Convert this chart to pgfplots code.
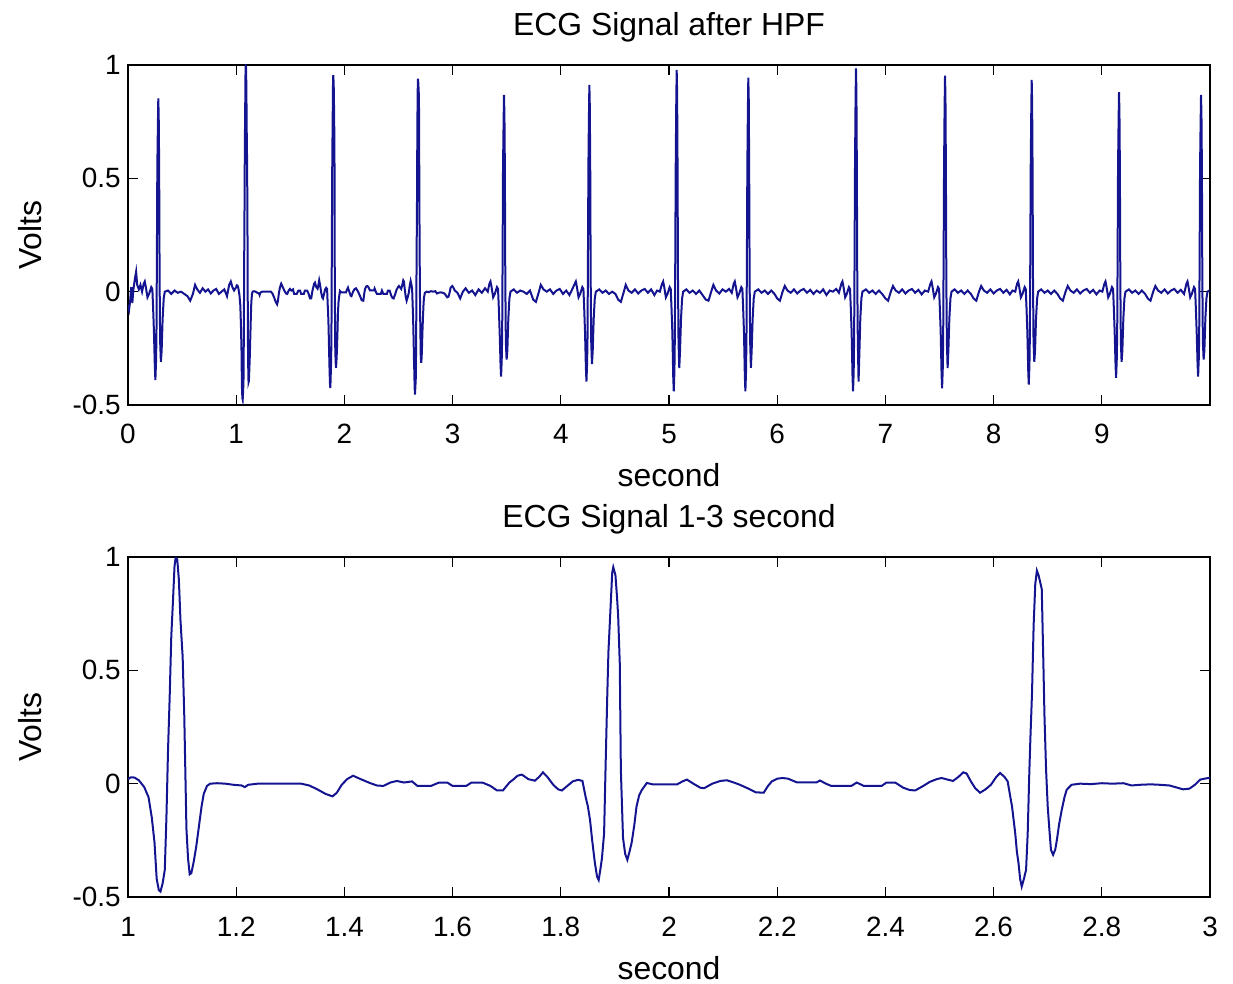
\documentclass[border=0pt]{standalone}
\usepackage{fontspec}
\setmainfont{Liberation Sans}
\usepackage{pgfplots}
\pgfplotsset{compat=1.18}
\usepackage{pgfplotstable}
\definecolor{ecg}{RGB}{20,20,145}

\pgfplotstableread{
t v
0.000 -0.060
0.010 -0.080
0.020 -0.040
0.030 0.020
0.040 -0.050
0.050 0.010
0.065 0.060
0.075 0.088
0.085 0.030
0.100 0.010
0.115 0.030
0.130 0.000
0.145 0.035
0.155 0.045
0.165 0.020
0.180 -0.025
0.195 -0.010
0.215 0.020
0.225 0.012
0.232 -0.070
0.240 -0.180
0.248 -0.330
0.253 -0.390
0.259 -0.310
0.263 -0.200
0.267 0.150
0.271 0.550
0.276 0.725
0.280 0.853
0.284 0.768
0.288 0.550
0.292 0.060
0.297 -0.220
0.304 -0.310
0.311 -0.260
0.320 -0.120
0.330 -0.030
0.340 0.000
0.370 0.005
0.400 -0.010
0.430 0.005
0.460 -0.005
0.490 0.000
0.520 -0.010
0.550 -0.020
0.575 -0.040
0.600 -0.010
0.620 0.030
0.640 0.010
0.665 -0.005
0.690 0.015
0.715 0.000
0.740 0.010
0.765 -0.008
0.790 0.005
0.815 0.012
0.840 -0.010
0.865 0.000
0.890 0.010
0.915 -0.020
0.935 0.030
0.950 0.045
0.965 0.020
0.980 0.005
1.000 0.020
1.005 0.028
1.012 0.027
1.020 0.015
1.030 -0.015
1.038 -0.060
1.044 -0.150
1.049 -0.260
1.053 -0.420
1.057 -0.470
1.060 -0.476
1.064 -0.440
1.068 -0.380
1.071 -0.150
1.074 0.150
1.077 0.380
1.080 0.650
1.083 0.800
1.086 0.960
1.088 0.995
1.091 0.990
1.094 0.900
1.097 0.720
1.101 0.560
1.104 0.300
1.106 0.050
1.108 -0.200
1.111 -0.330
1.114 -0.400
1.117 -0.395
1.121 -0.350
1.126 -0.280
1.131 -0.190
1.136 -0.100
1.140 -0.045
1.146 -0.010
1.152 0.000
1.165 0.002
1.180 0.000
1.195 -0.005
1.210 -0.008
1.216 -0.015
1.222 -0.005
1.240 0.000
1.280 0.000
1.320 0.000
1.335 -0.008
1.350 -0.025
1.365 -0.045
1.378 -0.056
1.386 -0.040
1.395 -0.005
1.405 0.020
1.416 0.035
1.430 0.020
1.447 0.003
1.460 -0.008
1.472 -0.010
1.485 0.005
1.497 0.012
1.510 0.005
1.525 0.010
1.535 -0.010
1.560 -0.010
1.575 0.005
1.590 0.005
1.600 -0.010
1.625 -0.010
1.635 0.005
1.655 0.005
1.670 -0.010
1.682 -0.030
1.693 -0.030
1.705 0.005
1.712 0.018
1.720 0.035
1.728 0.040
1.740 0.020
1.752 0.013
1.760 0.030
1.767 0.050
1.775 0.030
1.786 -0.005
1.795 -0.025
1.802 -0.030
1.812 -0.010
1.822 0.010
1.832 0.017
1.840 0.012
1.846 -0.060
1.850 -0.100
1.854 -0.160
1.858 -0.250
1.863 -0.350
1.867 -0.410
1.870 -0.425
1.873 -0.380
1.876 -0.330
1.880 -0.220
1.883 0.100
1.886 0.400
1.888 0.580
1.892 0.780
1.895 0.930
1.897 0.955
1.901 0.920
1.904 0.820
1.906 0.740
1.909 0.530
1.911 0.060
1.915 -0.240
1.919 -0.310
1.923 -0.336
1.927 -0.300
1.931 -0.260
1.936 -0.180
1.940 -0.100
1.945 -0.050
1.950 -0.027
1.959 0.003
1.970 -0.003
1.990 -0.003
2.015 -0.003
2.025 0.010
2.033 0.018
2.045 0.000
2.058 -0.018
2.065 -0.020
2.080 0.000
2.095 0.012
2.107 0.015
2.120 0.005
2.131 -0.005
2.145 -0.020
2.160 -0.038
2.175 -0.040
2.183 -0.010
2.190 0.010
2.200 0.022
2.210 0.025
2.220 0.022
2.236 0.006
2.255 0.006
2.273 0.006
2.279 0.014
2.290 0.000
2.300 -0.010
2.320 -0.010
2.337 -0.010
2.347 0.005
2.360 -0.010
2.393 -0.010
2.402 0.005
2.418 0.005
2.433 -0.018
2.445 -0.028
2.455 -0.030
2.470 -0.010
2.482 0.008
2.495 0.020
2.504 0.025
2.515 0.018
2.525 0.012
2.535 0.030
2.544 0.050
2.550 0.045
2.558 0.010
2.566 -0.020
2.575 -0.040
2.585 -0.025
2.595 -0.005
2.605 0.030
2.612 0.047
2.620 0.030
2.626 0.010
2.631 -0.060
2.634 -0.100
2.637 -0.160
2.640 -0.220
2.643 -0.300
2.646 -0.350
2.649 -0.420
2.652 -0.454
2.656 -0.420
2.660 -0.380
2.663 -0.220
2.666 0.050
2.668 0.200
2.671 0.400
2.674 0.700
2.677 0.880
2.680 0.940
2.683 0.920
2.687 0.880
2.689 0.858
2.692 0.530
2.694 0.300
2.697 0.060
2.700 -0.100
2.703 -0.200
2.706 -0.292
2.710 -0.314
2.714 -0.290
2.717 -0.248
2.721 -0.180
2.726 -0.115
2.731 -0.060
2.735 -0.027
2.744 -0.005
2.760 0.000
2.780 -0.002
2.800 0.002
2.820 0.000
2.840 0.002
2.855 -0.008
2.870 -0.005
2.890 -0.003
2.908 -0.005
2.925 -0.008
2.940 -0.018
2.950 -0.025
2.962 -0.022
2.972 -0.005
2.982 0.018
2.990 0.022
2.997 0.025
3.005 0.020
3.020 0.005
3.045 -0.005
3.070 -0.030
3.095 0.000
3.120 0.015
3.150 -0.005
3.180 0.005
3.210 -0.015
3.240 0.010
3.270 -0.005
3.300 0.015
3.325 0.000
3.340 0.035
3.350 0.045
3.360 0.020
3.375 -0.025
3.390 -0.010
3.410 0.020
3.420 0.012
3.427 -0.070
3.435 -0.180
3.443 -0.320
3.448 -0.375
3.454 -0.300
3.458 -0.200
3.462 0.150
3.466 0.550
3.471 0.738
3.475 0.868
3.479 0.781
3.483 0.550
3.487 0.060
3.492 -0.220
3.499 -0.300
3.506 -0.260
3.515 -0.120
3.525 -0.030
3.535 0.000
3.565 0.010
3.595 -0.005
3.625 0.005
3.655 0.000
3.685 -0.010
3.715 0.005
3.745 -0.035
3.770 -0.045
3.795 -0.005
3.815 0.030
3.840 0.010
3.870 0.000
3.900 0.010
3.930 -0.010
3.960 0.005
3.990 0.012
4.020 -0.010
4.050 0.005
4.080 -0.015
4.105 0.010
4.129 0.035
4.139 0.045
4.149 0.020
4.164 -0.025
4.179 -0.010
4.199 0.020
4.209 0.012
4.216 -0.070
4.224 -0.180
4.232 -0.337
4.237 -0.397
4.243 -0.318
4.247 -0.200
4.251 0.150
4.255 0.550
4.260 0.775
4.264 0.912
4.268 0.821
4.272 0.550
4.276 0.060
4.281 -0.220
4.288 -0.320
4.295 -0.260
4.304 -0.120
4.314 -0.030
4.324 0.000
4.355 0.010
4.385 -0.005
4.415 0.005
4.445 -0.010
4.475 0.000
4.505 -0.010
4.530 -0.035
4.555 -0.045
4.580 -0.005
4.600 0.030
4.625 0.005
4.655 -0.005
4.685 0.010
4.715 -0.008
4.745 0.005
4.775 0.012
4.805 -0.005
4.835 0.010
4.865 -0.015
4.890 0.005
4.915 0.000
4.936 0.035
4.946 0.045
4.956 0.020
4.971 -0.025
4.986 -0.010
5.006 0.020
5.016 0.012
5.023 -0.070
5.031 -0.180
5.039 -0.374
5.044 -0.440
5.050 -0.352
5.054 -0.200
5.058 0.150
5.062 0.550
5.067 0.831
5.071 0.978
5.075 0.880
5.079 0.550
5.083 0.060
5.088 -0.220
5.095 -0.337
5.102 -0.260
5.111 -0.120
5.121 -0.030
5.131 0.000
5.160 0.010
5.190 -0.005
5.220 0.005
5.250 -0.010
5.280 0.005
5.310 -0.015
5.340 -0.035
5.365 -0.040
5.390 0.000
5.410 0.030
5.435 0.005
5.465 -0.008
5.495 0.010
5.525 0.000
5.555 0.012
5.580 -0.005
5.598 0.035
5.608 0.045
5.618 0.020
5.633 -0.025
5.648 -0.010
5.668 0.020
5.678 0.012
5.685 -0.070
5.693 -0.180
5.701 -0.374
5.706 -0.440
5.712 -0.352
5.716 -0.200
5.720 0.150
5.724 0.550
5.729 0.802
5.733 0.944
5.737 0.850
5.741 0.550
5.745 0.060
5.750 -0.220
5.757 -0.336
5.764 -0.260
5.773 -0.120
5.783 -0.030
5.793 0.000
5.825 0.010
5.855 -0.005
5.885 0.005
5.915 -0.010
5.945 0.005
5.975 -0.010
6.000 -0.030
6.025 -0.040
6.050 0.000
6.070 0.025
6.095 0.005
6.125 -0.005
6.155 0.010
6.185 -0.008
6.215 0.005
6.245 0.012
6.275 -0.005
6.305 0.008
6.335 -0.010
6.365 0.005
6.395 -0.005
6.425 0.010
6.455 -0.015
6.485 0.005
6.515 0.000
6.545 0.012
6.570 -0.005
6.593 0.035
6.603 0.045
6.613 0.020
6.628 -0.025
6.643 -0.010
6.663 0.020
6.673 0.012
6.680 -0.070
6.688 -0.180
6.696 -0.374
6.701 -0.440
6.707 -0.352
6.711 -0.200
6.715 0.150
6.719 0.550
6.724 0.837
6.728 0.985
6.732 0.887
6.736 0.550
6.740 0.060
6.745 -0.220
6.752 -0.397
6.759 -0.280
6.768 -0.120
6.778 -0.030
6.788 0.000
6.820 0.010
6.850 -0.005
6.880 0.005
6.910 -0.010
6.940 0.005
6.970 -0.010
7.000 -0.030
7.025 -0.040
7.050 0.000
7.070 0.025
7.095 0.005
7.125 -0.005
7.155 0.010
7.185 -0.008
7.215 0.005
7.245 0.012
7.275 -0.005
7.305 0.008
7.335 -0.012
7.365 0.005
7.395 0.000
7.416 0.035
7.426 0.045
7.436 0.020
7.451 -0.025
7.466 -0.010
7.486 0.020
7.496 0.012
7.503 -0.070
7.511 -0.180
7.519 -0.362
7.524 -0.426
7.530 -0.341
7.534 -0.200
7.538 0.150
7.542 0.550
7.547 0.810
7.551 0.953
7.555 0.858
7.559 0.550
7.563 0.060
7.568 -0.220
7.575 -0.337
7.582 -0.260
7.591 -0.120
7.601 -0.030
7.611 0.000
7.640 0.010
7.670 -0.005
7.700 0.005
7.730 -0.010
7.760 0.005
7.790 -0.010
7.815 -0.030
7.840 -0.040
7.865 0.000
7.885 0.025
7.910 0.005
7.940 -0.005
7.970 0.010
8.000 -0.008
8.030 0.005
8.060 0.012
8.090 -0.005
8.120 0.008
8.150 -0.012
8.175 0.005
8.200 0.000
8.217 0.035
8.227 0.045
8.237 0.020
8.252 -0.025
8.267 -0.010
8.287 0.020
8.297 0.012
8.304 -0.070
8.312 -0.180
8.320 -0.349
8.325 -0.410
8.331 -0.328
8.335 -0.200
8.339 0.150
8.343 0.550
8.348 0.794
8.352 0.934
8.356 0.841
8.360 0.550
8.364 0.060
8.369 -0.220
8.376 -0.310
8.383 -0.260
8.392 -0.120
8.402 -0.030
8.412 0.000
8.440 0.010
8.470 -0.005
8.500 0.005
8.530 -0.010
8.560 0.005
8.590 -0.010
8.615 -0.030
8.640 -0.040
8.665 0.000
8.685 0.025
8.710 0.005
8.740 -0.005
8.770 0.010
8.800 -0.008
8.830 0.005
8.860 0.012
8.890 -0.005
8.920 0.008
8.950 -0.012
8.980 0.005
9.005 0.000
9.024 0.035
9.034 0.045
9.044 0.020
9.059 -0.025
9.074 -0.010
9.094 0.020
9.104 0.012
9.111 -0.070
9.119 -0.180
9.127 -0.323
9.132 -0.380
9.138 -0.304
9.142 -0.200
9.146 0.150
9.150 0.550
9.155 0.748
9.159 0.880
9.163 0.792
9.167 0.550
9.171 0.060
9.176 -0.220
9.183 -0.310
9.190 -0.260
9.199 -0.120
9.209 -0.030
9.219 0.000
9.250 0.010
9.280 -0.005
9.310 0.005
9.340 -0.010
9.370 0.005
9.400 -0.010
9.425 -0.030
9.450 -0.040
9.475 0.000
9.495 0.025
9.520 0.005
9.550 -0.005
9.580 0.010
9.610 -0.008
9.640 0.005
9.670 0.012
9.700 -0.005
9.730 0.008
9.760 -0.010
9.782 0.035
9.792 0.045
9.802 0.020
9.817 -0.025
9.832 -0.010
9.852 0.020
9.862 0.012
9.869 -0.070
9.877 -0.180
9.885 -0.320
9.890 -0.375
9.896 -0.300
9.900 -0.200
9.904 0.150
9.908 0.550
9.913 0.738
9.917 0.868
9.921 0.781
9.925 0.550
9.929 0.060
9.934 -0.220
9.941 -0.300
9.948 -0.260
9.957 -0.120
9.967 -0.030
9.977 0.000
9.995 0.005
}\ecgdata

\pgfplotsset{
  ecgaxis/.style={
    scale only axis,
    width=541bp, height=170bp,
    axis line style={line width=0.7bp, black},
    every tick/.style={line width=0.6bp, black},
    major tick length=5bp,
    tick align=inside,
    ymin=-0.5, ymax=1,
    ytick={-0.5,0,0.5,1},
    yticklabels={-0.5,0,0.5,1},
    ticklabel style={font=\fontsize{14}{16}\selectfont},
    yticklabel style={anchor=east, inner sep=0pt, xshift=-3.5bp},
    xticklabel style={anchor=base, inner sep=0pt, yshift=-19.5bp},
    ylabel={Volts},
    xlabel={second},
    every axis y label/.style={at={(axis description cs:-0.0906,0.5)}, rotate=90, anchor=center, font=\fontsize{16}{18}\selectfont},
    every axis x label/.style={at={(axis description cs:0.5,0)}, anchor=base, yshift=-41bp, font=\fontsize{16}{18}\selectfont},
    every axis title shift=0pt,
    title style={at={(axis description cs:0.5,1)}, anchor=base, yshift=14.5bp, font=\fontsize{16}{18}\selectfont},
  }
}

\begin{document}
\begin{tikzpicture}
\useasboundingbox (0bp,0bp) rectangle (616.5bp,492bp);
\begin{axis}[ecgaxis,
  at={(64bp,289.5bp)}, anchor=south west,
  xmin=0, xmax=10,
  xtick={0,1,2,3,4,5,6,7,8,9},
  xticklabels={0,1,2,3,4,5,6,7,8,9},
  title={ECG Signal after HPF}]
\addplot[ecg, line width=1bp] table[x=t, y=v] {\ecgdata};
\end{axis}
\begin{axis}[ecgaxis,
  at={(64bp,43.5bp)}, anchor=south west,
  xmin=1, xmax=3,
  xtick={1,1.2,1.4,1.6,1.8,2,2.2,2.4,2.6,2.8,3},
  xticklabels={1,1.2,1.4,1.6,1.8,2,2.2,2.4,2.6,2.8,3},
  title={ECG Signal 1-3 second}]
\addplot[ecg, line width=1bp] table[x=t, y=v] {\ecgdata};
\end{axis}
\end{tikzpicture}
\end{document}
